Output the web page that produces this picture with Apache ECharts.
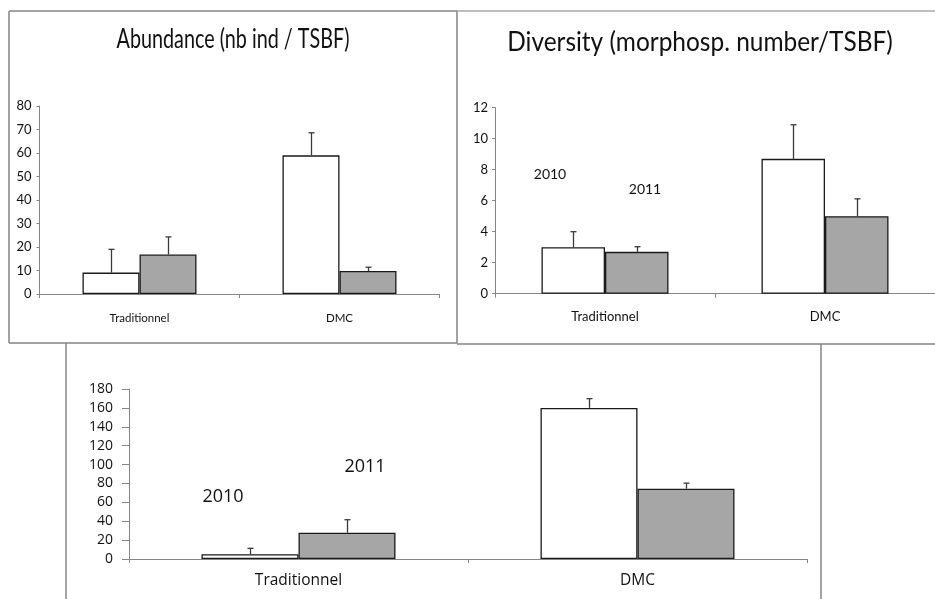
<!DOCTYPE html>
<html>
<head>
<meta charset="utf-8">
<title>Abundance and diversity, Traditionnel vs DMC</title>
<script src="https://cdn.jsdelivr.net/npm/echarts@6/dist/echarts.min.js"></script>
<style>
  html, body { margin: 0; padding: 0; background: #fff; }
  #chart { width: 935px; height: 599px; }
</style>
</head>
<body>
<div id="chart"></div>
<script>
// Farming systems compared on each panel
const categories = ['Traditionnel', 'DMC'];

// Abundance (individuals per TSBF monolith): means and standard errors
const abundance2010 = [9.1, 59.0];
const abundance2010Err = [9.9, 9.6];
const abundance2011 = [16.8, 9.8];
const abundance2011Err = [7.5, 1.6];
const abundanceTicks = { min: 0, max: 80, interval: 10 };

// Diversity (morphospecies per TSBF monolith)
const diversity2010 = [3.0, 8.7];
const diversity2010Err = [1.0, 2.2];
const diversity2011 = [2.7, 5.0];
const diversity2011Err = [0.33, 1.12];
const diversityTicks = { min: 0, max: 12, interval: 2 };

// Third panel (no title)
const third2010 = [5.0, 160.0];
const third2010Err = [6.3, 9.8];
const third2011 = [27.8, 74.5];
const third2011Err = [13.8, 5.8];
const thirdTicks = { min: 0, max: 180, interval: 20 };

const yearLabels = ['2010', '2011'];

const narrow = "'Lato', sans-serif";
const wide = "'Open Sans', 'Lato', sans-serif";
const axisColor = '#868686';
const frameColor = '#858585';

// panel layouts: plot rectangle, bar width and fonts
const panels = [
  { grid: { left: 39.5, top: 106, width: 400, height: 188 }, barWidth: 57,
    ticks: abundanceTicks, s2010: abundance2010, e2010: abundance2010Err,
    s2011: abundance2011, e2011: abundance2011Err,
    font: narrow, ySize: 13, yMargin: 8, yTick: 3, xSize: 11.5, xMargin: 18 },
  { grid: { left: 495, top: 107.7, width: 440, height: 186 }, barWidth: 63.5,
    ticks: diversityTicks, s2010: diversity2010, e2010: diversity2010Err,
    s2011: diversity2011, e2011: diversity2011Err,
    font: narrow, ySize: 13, yMargin: 7, yTick: 3, xSize: 13, xMargin: 17 },
  { grid: { left: 129, top: 389, width: 678, height: 170 }, barWidth: 97,
    ticks: thirdTicks, s2010: third2010, e2010: third2010Err,
    s2011: third2011, e2011: third2011Err,
    font: wide, ySize: 14, yMargin: 16, yTick: 7, xSize: 15.5, xMargin: 14 }
];

function errorBars(idx, means, errs, offset) {
  return {
    type: 'custom',
    xAxisIndex: idx,
    yAxisIndex: idx,
    z: 5,
    silent: true,
    data: means.map((m, k) => [k, m, m + errs[k]]),
    renderItem: function (params, api) {
      const base = api.coord([api.value(0), api.value(1)]);
      const top = api.coord([api.value(0), api.value(2)]);
      const x = Math.round(base[0] + offset) + 0.5;
      const style = { stroke: '#3a3a3a', lineWidth: 1.3 };
      return {
        type: 'group',
        children: [
          { type: 'line', shape: { x1: x, y1: base[1], x2: x, y2: top[1] }, style: style },
          { type: 'line', shape: { x1: x - 3, y1: top[1], x2: x + 3, y2: top[1] }, style: style }
        ]
      };
    }
  };
}

const grids = [], xAxes = [], yAxes = [], series = [];
panels.forEach((p, i) => {
  grids.push(Object.assign({ containLabel: false }, p.grid));
  xAxes.push({
    type: 'category', gridIndex: i, data: categories, boundaryGap: true,
    axisLine: { lineStyle: { color: axisColor, width: 1 } },
    axisTick: { show: true, length: 4, lineStyle: { color: axisColor } },
    axisLabel: { fontFamily: p.font, fontSize: p.xSize, color: '#111', margin: p.xMargin },
    splitLine: { show: false }
  });
  yAxes.push({
    type: 'value', gridIndex: i,
    min: p.ticks.min, max: p.ticks.max, interval: p.ticks.interval,
    axisLine: { show: true, lineStyle: { color: axisColor, width: 1 } },
    axisTick: { show: true, length: p.yTick, lineStyle: { color: axisColor } },
    axisLabel: { fontFamily: p.font, fontSize: p.ySize, color: '#111', margin: p.yMargin },
    splitLine: { show: false }
  });
  series.push({
    type: 'bar', name: yearLabels[0], xAxisIndex: i, yAxisIndex: i, data: p.s2010,
    barWidth: p.barWidth, barGap: '0%',
    itemStyle: { color: '#ffffff', borderColor: '#1a1a1a', borderWidth: 1.3 }
  });
  series.push({
    type: 'bar', name: yearLabels[1], xAxisIndex: i, yAxisIndex: i, data: p.s2011,
    barWidth: p.barWidth, barGap: '0%',
    itemStyle: { color: '#a6a6a6', borderColor: '#1a1a1a', borderWidth: 1.3 }
  });
  series.push(errorBars(i, p.s2010, p.e2010, -p.barWidth / 2));
  series.push(errorBars(i, p.s2011, p.e2011, p.barWidth / 2));
});

function frameLine(x1, y1, x2, y2, color) {
  return { type: 'line', silent: true, z: 10,
    shape: { x1: x1, y1: y1, x2: x2, y2: y2 },
    style: { stroke: color || frameColor, lineWidth: 1.5 } };
}
// centred text; scaleX narrows the glyphs of the condensed titles
function freeText(str, x, y, size, font, scaleX) {
  return { type: 'text', silent: true, x: x, y: y, scaleX: scaleX || 1,
    style: { text: str, fontFamily: font, fontSize: size, fill: '#111',
             align: 'center', verticalAlign: 'middle' } };
}

const graphic = [
  // frame of the abundance panel
  frameLine(9, 11, 457, 11),
  frameLine(9, 11, 9, 343),
  frameLine(457, 11, 457, 343),
  frameLine(9, 343, 457, 343),
  // frame of the diversity panel
  frameLine(457, 11, 935, 11, '#a8a8a8'),
  frameLine(457, 344, 935, 344),
  // frame of the lower panel
  frameLine(66, 343, 66, 599),
  frameLine(821, 344, 821, 599),
  // titles
  freeText('Abundance (nb ind / TSBF)', 233, 40, 26, narrow, 0.76),
  freeText('Diversity (morphosp. number/TSBF)', 700, 43, 26, narrow, 0.94),
  // year annotations
  freeText(yearLabels[0], 550, 174, 14, narrow),
  freeText(yearLabels[1], 645, 189, 14, narrow),
  freeText(yearLabels[0], 223, 497, 18, wide),
  freeText(yearLabels[1], 365, 467, 18, wide)
];

const chart = echarts.init(document.getElementById('chart'), null, { renderer: 'canvas' });
chart.setOption({
  animation: false,
  backgroundColor: '#ffffff',
  grid: grids,
  xAxis: xAxes,
  yAxis: yAxes,
  series: series,
  graphic: graphic
});
</script>
</body>
</html>
